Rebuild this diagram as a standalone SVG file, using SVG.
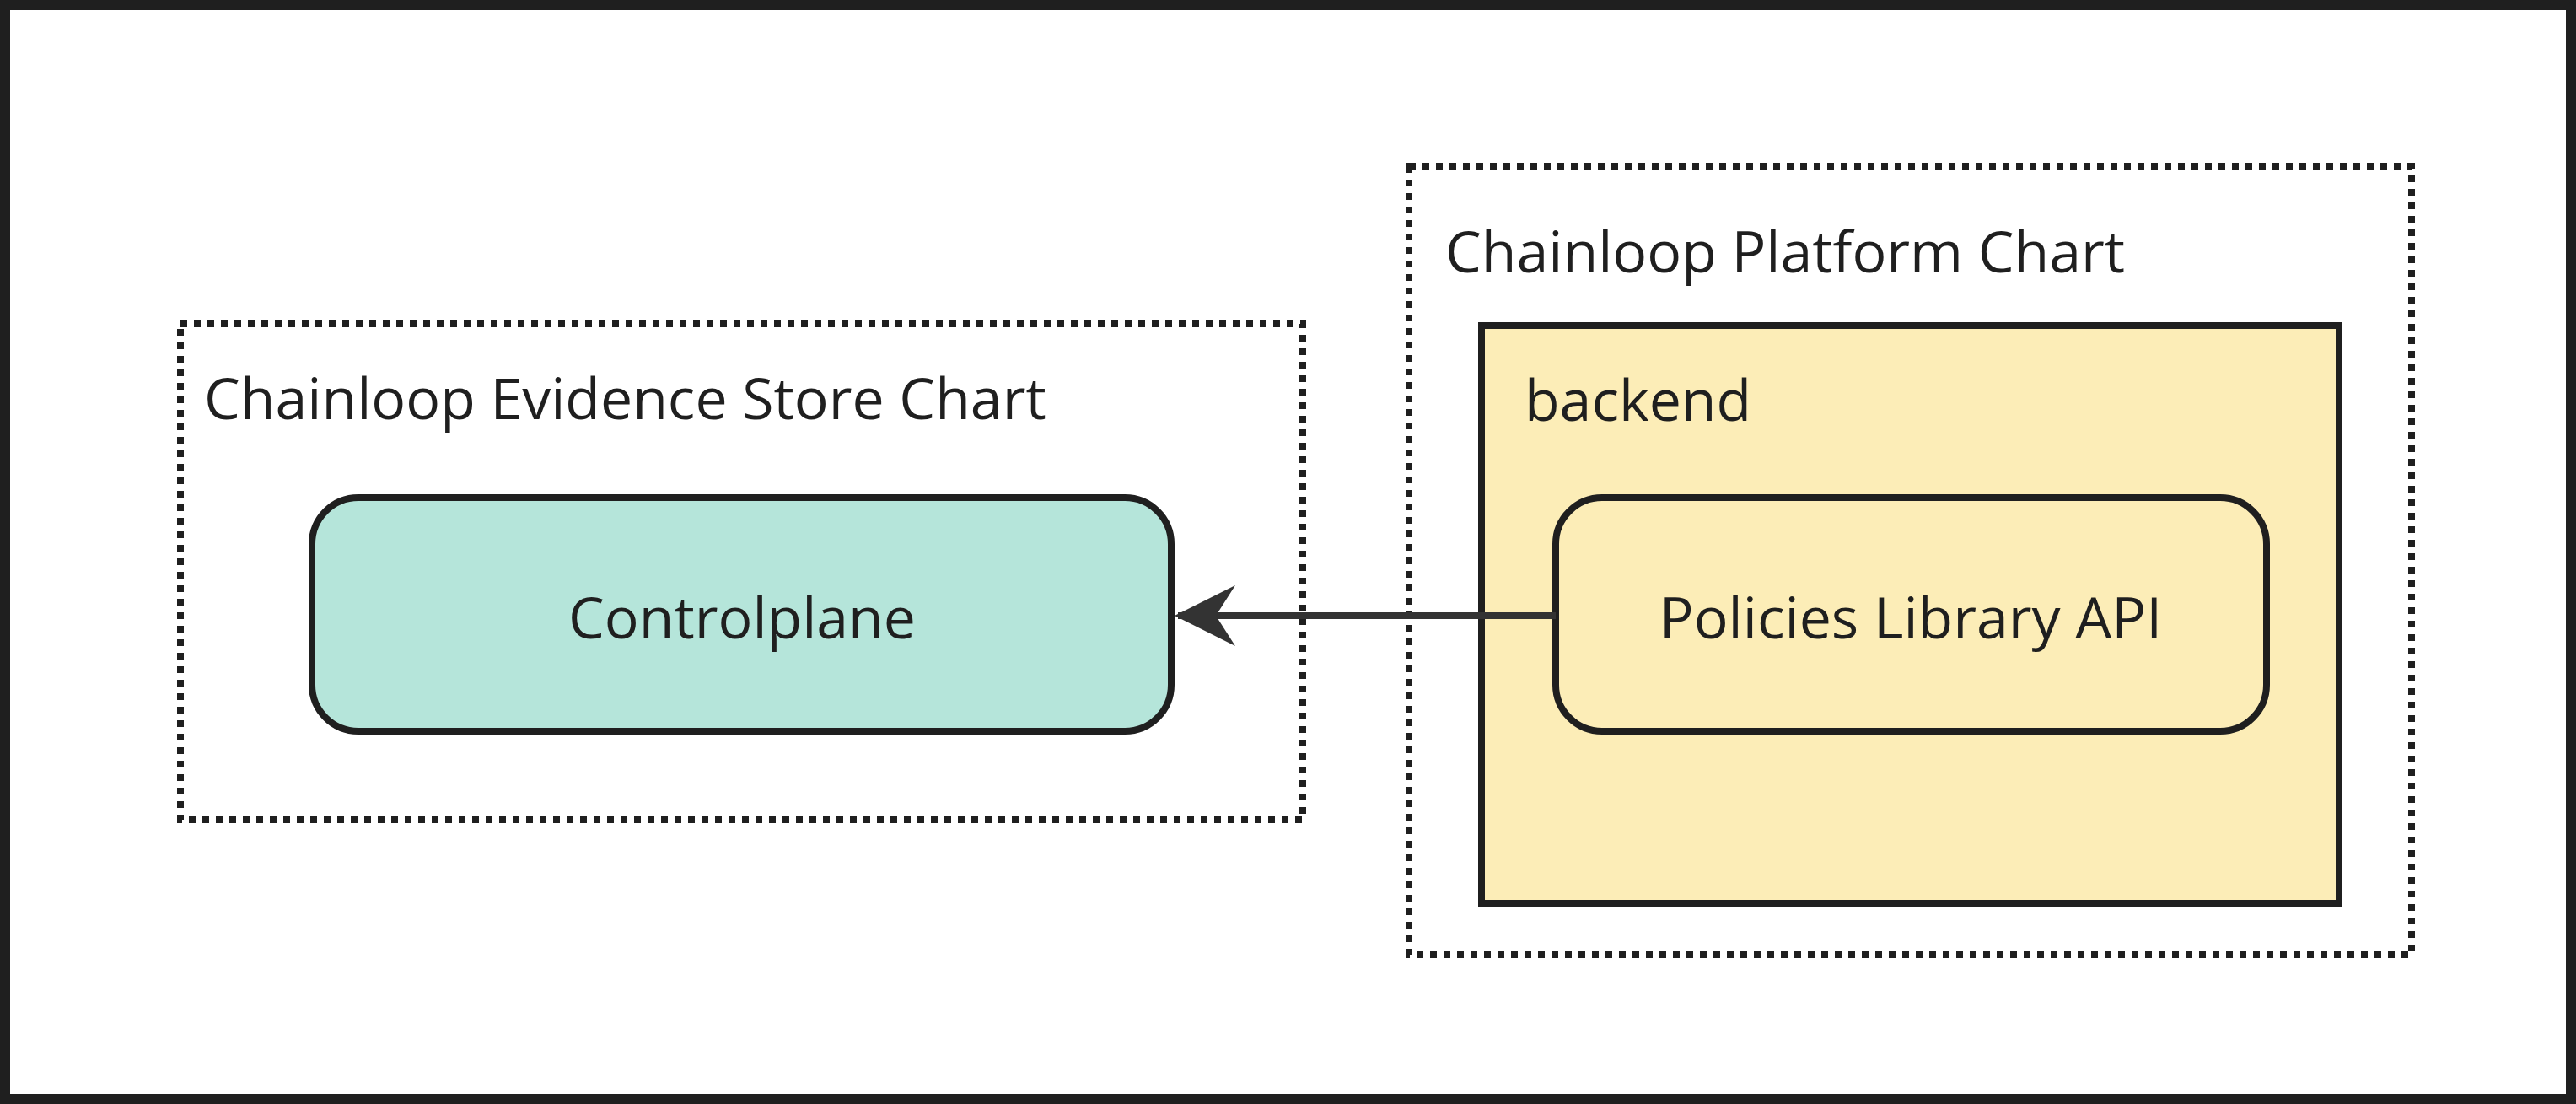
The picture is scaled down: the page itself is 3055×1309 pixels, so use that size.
<svg xmlns="http://www.w3.org/2000/svg" width="3055" height="1309" viewBox="0 0 3055 1309">
<style>
.t{font-family:"Open Sans","Noto Sans",sans-serif;font-size:68px;fill:#1f1f1f}
.dot{fill:none;stroke:#1f1f1f;stroke-width:8;stroke-dasharray:8 8}
.n{stroke:#1f1f1f;stroke-width:8}
</style>
<defs><marker id="ah" markerWidth="10" markerHeight="10" refX="9" refY="5" orient="auto" markerUnits="userSpaceOnUse" viewBox="0 0 10 10"><path d="M10,5 L0,0 L3,5 L0,10 Z" fill="#333"/></marker></defs>
<rect x="0" y="0" width="3055" height="1309" fill="#fff"/>
<rect x="6" y="6" width="3043" height="1297" fill="none" stroke="#1f1f1f" stroke-width="12"/>
<g id="evidence-store-chart"><rect class="dot" x="214" y="384" width="1331" height="588"/><text class="t" x="242" y="497">Chainloop Evidence Store Chart</text></g>
<g id="platform-chart"><rect class="dot" x="1671" y="197" width="1189" height="935"/><text class="t" x="1714" y="323">Chainloop Platform Chart</text></g>
<g id="backend"><rect class="n" x="1757" y="386" width="1017" height="685" fill="#fcedb7"/><text class="t" x="1808" y="499">backend</text></g>
<g id="controlplane"><rect class="n" x="370" y="590" width="1019" height="277" rx="55" fill="#b5e5da"/><text class="t" x="880" y="757" text-anchor="middle">Controlplane</text></g>
<g id="policies"><rect class="n" x="1845" y="590" width="843" height="277" rx="55" fill="#fcedb7"/><text class="t" x="2266" y="757" text-anchor="middle">Policies Library API</text></g>
<g id="connectors"><line x1="1845" y1="730" x2="1397" y2="730" stroke="#333" stroke-width="8"/><path d="M1393,730 L1465,694 L1442,730 L1465,766 Z" fill="#333"/></g>
</svg>
